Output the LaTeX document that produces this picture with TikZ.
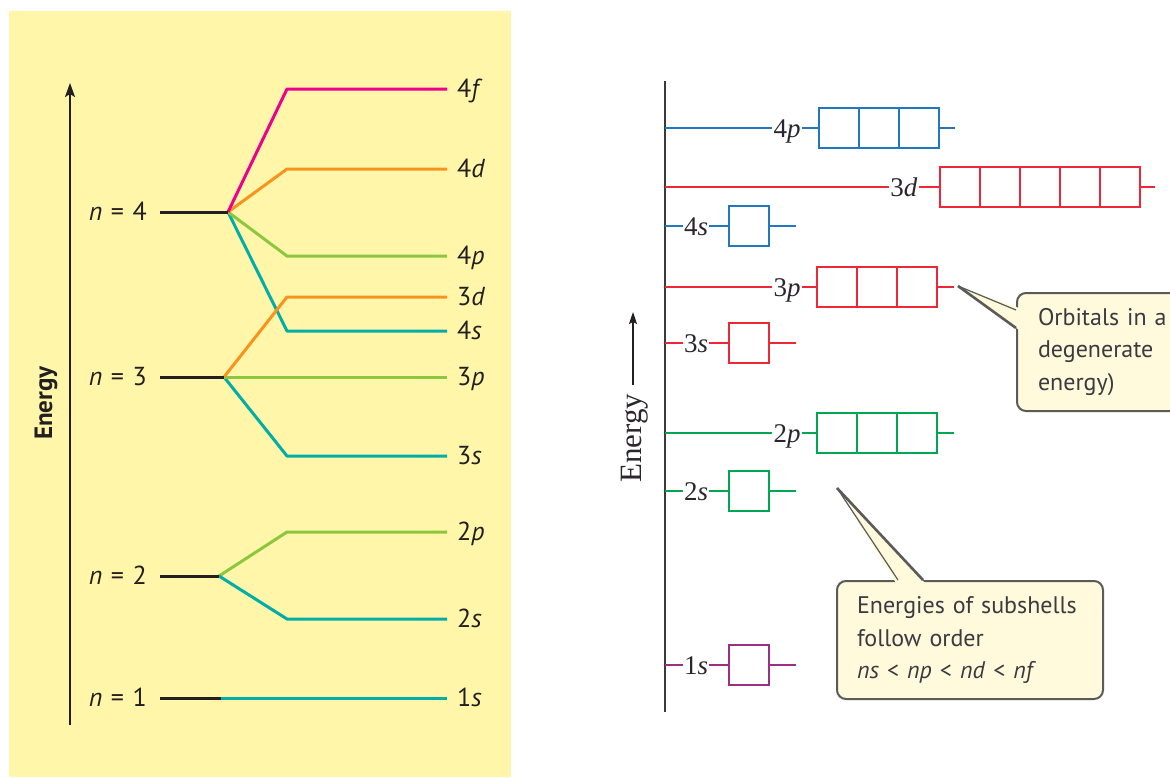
\documentclass[tikz,border=0pt]{standalone}
\usepackage{fontspec}
\setmainfont{PT Sans}
\newfontfamily\serifrm{Liberation Serif}
\usetikzlibrary{arrows.meta,calc}
\definecolor{bgyellow}{HTML}{FFF6A9}
\definecolor{cmag}{HTML}{EC008C}
\definecolor{corange}{HTML}{F7941D}
\definecolor{cgreenl}{HTML}{8DC63F}
\definecolor{cteal}{HTML}{00ADA9}
\definecolor{cblk}{HTML}{231F20}
\definecolor{rblue}{HTML}{2278C0}
\definecolor{rred}{HTML}{EE2737}
\definecolor{rgreen}{HTML}{00A651}
\definecolor{rpurple}{HTML}{9B2F86}
\definecolor{rtext}{HTML}{2A2630}
\definecolor{raxisc}{HTML}{3A3A3A}
\definecolor{callfill}{HTML}{FFFADC}
\definecolor{callline}{HTML}{5A5A58}
\definecolor{calltext}{HTML}{3A3A40}
\newcommand{\rlevel}[8]{%
  \coordinate (ax#1) at (665,#2);
  \node[rlab] (t#1) at (#5,#2) {#4};
  \foreach \k in {1,...,#7} {\node[cell, draw=#3] (b#1\k) at ({#6+40*\k-20},#2) {};}
  \coordinate (e#1) at (#8,#2);
  \draw[rl,#3] (ax#1) -- (t#1.west) (t#1.east) -- (b#11.west) (b#1#7.east) -- (e#1);
}
\newcommand{\eqsp}{\hspace{0.33em}}
\begin{document}
\begin{tikzpicture}[x=1pt,y=-1pt,
  lvl/.style={line width=3pt, line join=round},
  nlab/.style={font=\fontsize{26}{26}\selectfont, text=cblk, inner sep=0pt, text height=17pt, text depth=0pt, anchor=east},
  olab/.style={font=\fontsize{26}{26}\selectfont, text=cblk, inner xsep=10pt, inner ysep=0pt, text height=17pt, text depth=0pt, anchor=west},
  rlab/.style={font=\serifrm\fontsize{27}{27}\selectfont, text=rtext, inner xsep=1pt, inner ysep=0pt, text height=18pt, text depth=0pt},
  cell/.style={minimum size=40pt, inner sep=0pt, line width=2pt},
  rl/.style={line width=1.5pt},
  callbox/.style={draw=callline, fill=callfill, line width=2pt, rounded corners=9pt, font=\fontsize{24}{32.5}\selectfont, text=calltext, align=left, inner ysep=0pt},
]
\path[use as bounding box] (0,0) rectangle (1170,777);
\clip (0,0) rectangle (1170,777);
% ---------------- left panel ----------------
\fill[bgyellow] (9,11) rectangle (511,777);
\coordinate (la0) at (70,725);
\coordinate (la1) at (70,83);
\draw[cblk, line width=2pt, -{Stealth[length=14pt,width=10pt,inset=3pt]}] (la0) -- (la1);
\node[rotate=90, font=\bfseries\fontsize{25}{25}\selectfont, text=cblk] (lenergy) at (46,403) {Energy};

\coordinate (kx) at (287,0);
\coordinate (n4s) at (160,212); \coordinate (n4) at (228,212);
\coordinate (n3s) at (160,377); \coordinate (n3) at (224,377);
\coordinate (n2s) at (160,576); \coordinate (n2) at (219,576);
\coordinate (n1s) at (160,698); \coordinate (n1) at (221,698);

\node[nlab] (ln4) at (147,212) {\textit{n}\eqsp=\eqsp4};
\node[nlab] (ln3) at (147,377) {\textit{n}\eqsp=\eqsp3};
\node[nlab] (ln2) at (147,576) {\textit{n}\eqsp=\eqsp2};
\node[nlab] (ln1) at (147,698) {\textit{n}\eqsp=\eqsp1};

\node[olab] (l4f) at (447,89) {4\textit{f}};
\node[olab] (l4d) at (447,169) {4\textit{d}};
\node[olab] (l4p) at (447,256) {4\textit{p}};
\node[olab] (l3d) at (447,297) {3\textit{d}};
\node[olab] (l4s) at (447,331) {4\textit{s}};
\node[olab] (l3p) at (447,377) {3\textit{p}};
\node[olab] (l3s) at (447,456) {3\textit{s}};
\node[olab] (l2p) at (447,532) {2\textit{p}};
\node[olab] (l2s) at (447,619) {2\textit{s}};
\node[olab] (l1s) at (447,698) {1\textit{s}};

\draw[lvl,cteal] (n4) -- (kx |- l4s.west) -- (l4s.west);
\draw[lvl,cgreenl] (n4) -- (kx |- l4p.west) -- (l4p.west);
\draw[lvl,corange] (n4) -- (kx |- l4d.west) -- (l4d.west);
\draw[lvl,cmag] (n4) -- (kx |- l4f.west) -- (l4f.west);
\draw[lvl,cteal] (n3) -- (kx |- l3s.west) -- (l3s.west);
\draw[lvl,cgreenl] (n3) -- (l3p.west);
\draw[lvl,corange] (n3) -- (kx |- l3d.west) -- (l3d.west);
\draw[lvl,cgreenl] (n2) -- (kx |- l2p.west) -- (l2p.west);
\draw[lvl,cteal] (n2) -- (kx |- l2s.west) -- (l2s.west);
\draw[lvl,cteal] (n1) -- (l1s.west);
\draw[lvl,cblk] (n4s) -- (n4);
\draw[lvl,cblk] (n3s) -- (n3);
\draw[lvl,cblk] (n2s) -- (n2);
\draw[lvl,cblk] (n1s) -- (n1);

% ---------------- right panel ----------------
\coordinate (rtop) at (665,81);
\coordinate (rbot) at (665,712);
\draw[raxisc, line width=2pt] (rtop) -- (rbot);
\coordinate (ea0) at (633,385);
\coordinate (ea1) at (633,312);
\draw[cblk, line width=1.6pt, -{Stealth[length=12pt,width=8pt,inset=2pt]}] (ea0) -- (ea1);
\node[rotate=90, font=\serifrm\fontsize{31}{31}\selectfont, text=rtext] (renergy) at (635,438) {Energy};

\rlevel{4p}{128}{rblue}{4\textit{p}}{787}{819}{3}{955}
\rlevel{3d}{187}{rred}{3\textit{d}}{904}{940}{5}{1155}
\rlevel{4s}{226}{rblue}{4\textit{s}}{696}{729}{1}{796}
\rlevel{3p}{287}{rred}{3\textit{p}}{787}{817}{3}{954}
\rlevel{3s}{343}{rred}{3\textit{s}}{696}{729}{1}{796}
\rlevel{2p}{433}{rgreen}{2\textit{p}}{787}{817}{3}{954}
\rlevel{2s}{491}{rgreen}{2\textit{s}}{696}{729}{1}{796}
\rlevel{1s}{665}{rpurple}{1\textit{s}}{696}{729}{1}{796}

% callout 1
\node[callbox, anchor=north west, minimum width=244pt, minimum height=118pt, inner xsep=21pt, text width=202pt] (c1) at (1016,292) {Orbitals in a\\degenerate\\energy)};
\coordinate (tip1) at (958,286);
\fill[callfill] ($(c1.north west)+(3,16)$) -- (tip1) -- ($(c1.north west)+(3,38)$) -- cycle;
\draw[callline, line width=1.2pt] ($(c1.north west)+(0,18)$) -- (tip1);
\draw[callline, line width=2.6pt] (tip1) -- ($(c1.north west)+(0,36)$);

% callout 2
\node[callbox, anchor=north west, minimum width=266pt, minimum height=118pt, inner xsep=20pt, text width=226pt] (c2) at (836,580) {Energies of subshells\\follow order\\\textit{ns} {<} \textit{np} {<} \textit{nd} {<} \textit{nf}};
\coordinate (tip2) at (837,488);
\fill[callfill] ($(c2.north west)+(60,3)$) -- (tip2) -- ($(c2.north west)+(89,3)$) -- cycle;
\draw[callline, line width=1.2pt] ($(c2.north west)+(62,0)$) -- (tip2);
\draw[callline, line width=2.6pt] (tip2) -- ($(c2.north west)+(87,0)$);
\end{tikzpicture}
\end{document}
